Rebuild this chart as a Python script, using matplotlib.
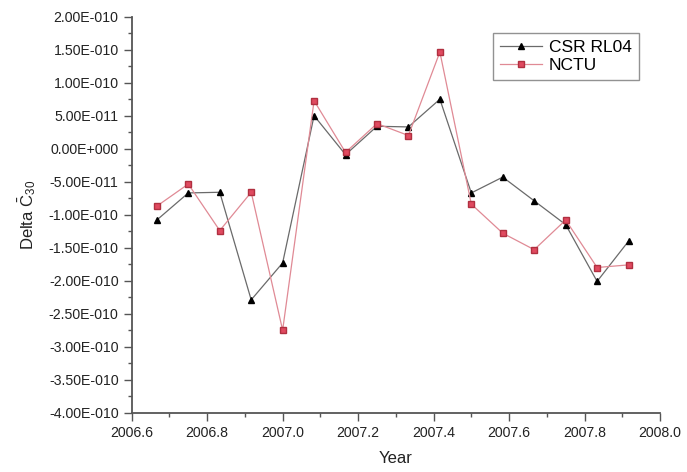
import numpy as np
import matplotlib
matplotlib.use("Agg")
import matplotlib.pyplot as plt
from matplotlib.ticker import FixedLocator

plt.rcParams["font.family"] = ["Liberation Sans", "DejaVu Sans"]
plt.rcParams["mathtext.fontset"] = "custom"
plt.rcParams["mathtext.rm"] = "Liberation Sans"
plt.rcParams["mathtext.it"] = "Liberation Sans"

# Monthly epochs, Sep 2006 .. Dec 2007
months = np.arange(8, 24)
years = 2006 + months / 12.0

csr_rl04 = [-1.08, -0.67, -0.66, -2.29, -1.73, 0.50, -0.09, 0.34,
            0.33, 0.75, -0.67, -0.43, -0.79, -1.15, -2.01, -1.40]
nctu = [-0.87, -0.535, -1.24, -0.66, -2.75, 0.727, -0.056, 0.38,
        0.20, 1.465, -0.84, -1.28, -1.53, -1.08, -1.80, -1.76]
scale = 1e-10

x_ticks = [2006.6, 2006.8, 2007.0, 2007.2, 2007.4, 2007.6, 2007.8, 2008.0]
y_tick_labels = ["2.00E-010", "1.50E-010", "1.00E-010", "5.00E-011",
                 "0.00E+000", "-5.00E-011", "-1.00E-010", "-1.50E-010",
                 "-2.00E-010", "-2.50E-010", "-3.00E-010", "-3.50E-010",
                 "-4.00E-010"]
y_ticks = [float(s) for s in y_tick_labels]

fig = plt.figure(figsize=(6.87, 4.72), dpi=100)
ax = fig.add_axes([0.1917, 0.1256, 0.769, 0.839])

ax.plot(years, np.array(csr_rl04) * scale, color="#6a6a6a", lw=0.9,
        marker="^", ms=5, mfc="black", mec="black", label="CSR RL04")
ax.plot(years, np.array(nctu) * scale, color="#e08a95", lw=0.9,
        marker="s", ms=4.5, mfc="#e04a60", mec="#b03040", label="NCTU")

ax.set_xlim(2006.6, 2008.0)
ax.set_ylim(-4e-10, 2e-10)
ax.set_xticks(x_ticks, [f"{v:.1f}" for v in x_ticks])
ax.set_yticks(y_ticks, y_tick_labels)
ax.xaxis.set_minor_locator(FixedLocator(
    [a + 0.1 for a in x_ticks[:-1]]))
ax.yaxis.set_minor_locator(FixedLocator(
    [a - 0.25e-10 for a in y_ticks[:-1]]))

for s in ("top", "right"):
    ax.spines[s].set_visible(False)
for s in ("left", "bottom"):
    ax.spines[s].set_color("#555555")
    ax.spines[s].set_linewidth(1.3)

ax.tick_params(which="major", direction="out", length=6, width=1.0,
               color="#555555", labelsize=10.2, labelcolor="#222222")
ax.tick_params(which="minor", direction="out", length=3, width=1.0,
               color="#555555")

ax.set_xlabel("Year", fontsize=12, color="#222222", labelpad=8)
ax.set_ylabel(r"Delta $\bar{\mathrm{C}}_{30}$", fontsize=12,
              color="#222222", labelpad=8)

leg = ax.legend(loc="upper right", bbox_to_anchor=(0.960, 0.960),
                borderaxespad=0, fontsize=12.5, frameon=True, fancybox=False,
                edgecolor="#777777", handlelength=2.4, handletextpad=0.4,
                borderpad=0.4, labelspacing=0.2)
leg.get_frame().set_linewidth(1.0)

fig.savefig("out.png", dpi=100, facecolor="white")
